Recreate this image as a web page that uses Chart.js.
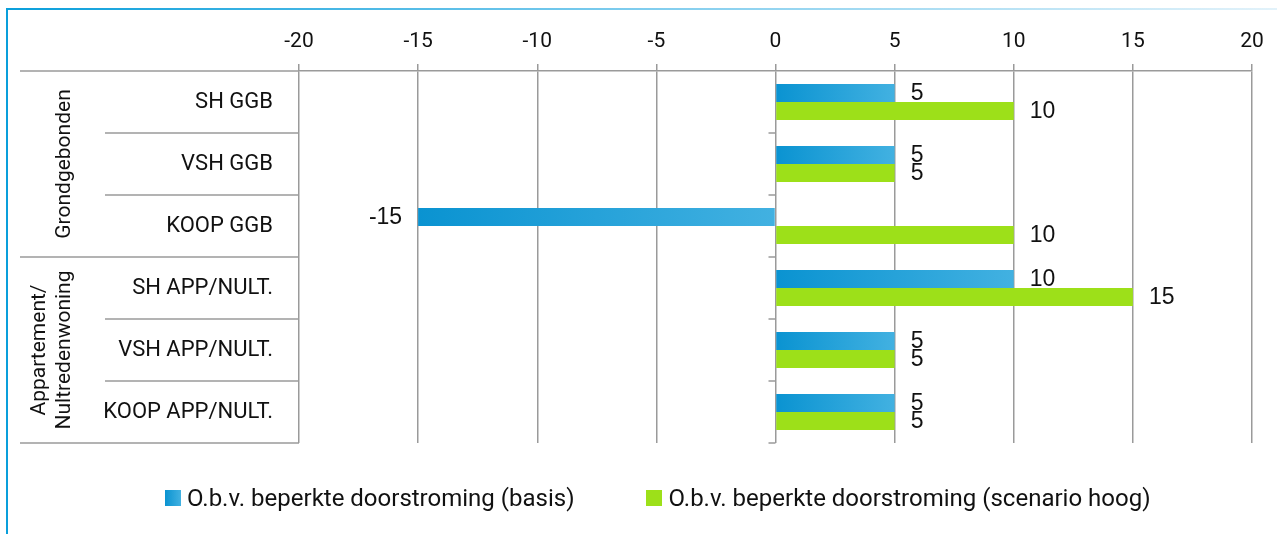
<!DOCTYPE html>
<html>
<head>
<meta charset="utf-8">
<title>Doorstroming</title>
<script src="https://cdn.jsdelivr.net/npm/chart.js@4.4.0/dist/chart.umd.min.js"></script>
<style>
    body { margin: 0; background: #fff; }
    #wrap { position: relative; width: 1277px; height: 534px; overflow: hidden; }
    #wrap canvas { position: absolute; left: 0; top: 0; }
    .frame-left { position: absolute; left: 6px; top: 8px; width: 2px; height: 526px; background: #0a9fdb; }
    .frame-top { position: absolute; left: 6px; top: 8px; width: 1271px; height: 2px;
        background: linear-gradient(to right, #0a9fdb, #80cdee 50%, #e2f2fa); }
    #legend { position: absolute; left: 165px; top: 484px; display: flex; gap: 72px;
        font-family: Roboto, sans-serif; font-size: 24px; color: #111; }
    #legend .item { display: flex; align-items: center; }
    #legend .box { width: 16px; height: 16px; margin-right: 6px; }
</style>
</head>
<body>
<div id="wrap">
    <canvas id="chart" width="1277" height="534"></canvas>
    <div class="frame-left"></div>
    <div class="frame-top"></div>
    <div id="legend"></div>
</div>
<script>
var categories = ['SH GGB', 'VSH GGB', 'KOOP GGB', 'SH APP/NULT.', 'VSH APP/NULT.', 'KOOP APP/NULT.'];
var basis = [5, 5, -15, 10, 5, 5];
var scenarioHoog = [10, 5, 10, 15, 5, 5];
var seriesNames = ['O.b.v. beperkte doorstroming (basis)', 'O.b.v. beperkte doorstroming (scenario hoog)'];

// groups of categories, shown rotated at the far left
var groupNames = [['Grondgebonden'], ['Appartement/', 'Nultredenwoning']];
var groupSizes = [3, 3];

var xMin = -20, xMax = 20, xStep = 5;

var blueDark = '#0a93d1', blueLight = '#42b1e1', green = '#9de019';
var gridColor = '#9a9a9a';

function blueFill(c) {
    var chart = c.chart;
    if (!chart.chartArea || c.type !== 'data') return blueDark;
    var xs = chart.scales.x;
    var a = xs.getPixelForValue(0), b = xs.getPixelForValue(c.raw);
    var g = chart.ctx.createLinearGradient(Math.min(a, b), 0, Math.max(a, b) + 0.01, 0);
    g.addColorStop(0, blueDark);
    g.addColorStop(1, blueLight);
    return g;
}

// separators in the label column, ticks on the zero line and the group names
var labelFrame = {
    id: 'labelFrame',
    afterDraw: function(chart) {
        var ctx = chart.ctx, area = chart.chartArea;
        var x = chart.scales.x, y = chart.scales.y;
        var n = categories.length;
        var band = y.getPixelForValue(1) - y.getPixelForValue(0);
        var x0 = x.getPixelForValue(0);
        var bounds = [0];
        groupSizes.forEach(function(s) { bounds.push(bounds[bounds.length - 1] + s); });

        ctx.save();
        ctx.strokeStyle = gridColor;
        ctx.lineWidth = 1.5;
        for (var i = 0; i <= n; i++) {
            var yy = y.getPixelForValue(i) - band / 2;
            var start = bounds.indexOf(i) >= 0 ? 20 : 105;
            ctx.beginPath();
            ctx.moveTo(start, yy);
            ctx.lineTo(area.left, yy);
            ctx.stroke();
            if (i > 0) {
                ctx.beginPath();
                ctx.moveTo(x0 - 7, yy);
                ctx.lineTo(x0, yy);
                ctx.stroke();
            }
        }

        ctx.fillStyle = '#111';
        ctx.font = '21px Roboto';
        ctx.textAlign = 'center';
        ctx.textBaseline = 'middle';
        groupNames.forEach(function(lines, g) {
            var top = y.getPixelForValue(bounds[g]) - band / 2;
            var bottom = y.getPixelForValue(bounds[g + 1]) - band / 2;
            var cy = (top + bottom) / 2;
            lines.forEach(function(t, j) {
                var cx = 65 - (lines.length - 1 - j) * 25;
                ctx.save();
                ctx.translate(cx, cy);
                ctx.rotate(-Math.PI / 2);
                ctx.fillText(t, 0, 0);
                ctx.restore();
            });
        });
        ctx.restore();
    }
};

// value next to the end of each bar
var valueLabels = {
    id: 'valueLabels',
    afterDatasetsDraw: function(chart) {
        var ctx = chart.ctx;
        ctx.save();
        ctx.font = '23px "Liberation Sans", Arial, sans-serif';
        ctx.fillStyle = '#111';
        ctx.textBaseline = 'middle';
        chart.data.datasets.forEach(function(ds, d) {
            chart.getDatasetMeta(d).data.forEach(function(bar, i) {
                var v = ds.data[i];
                ctx.textAlign = v < 0 ? 'right' : 'left';
                ctx.fillText(String(v), bar.x + (v < 0 ? -16 : 16), bar.y + 1);
            });
        });
        ctx.restore();
    }
};

var chart = new Chart(document.getElementById('chart'), {
    type: 'bar',
    data: {
        labels: categories,
        datasets: [{
            label: seriesNames[0],
            data: basis,
            backgroundColor: blueFill,
            categoryPercentage: 0.58,
            barPercentage: 1
        }, {
            label: seriesNames[1],
            data: scenarioHoog,
            backgroundColor: green,
            categoryPercentage: 0.58,
            barPercentage: 1
        }]
    },
    options: {
        indexAxis: 'y',
        responsive: false,
        animation: false,
        layout: { padding: { top: 12, right: 25, bottom: 91, left: 0 } },
        plugins: {
            legend: { display: false },
            tooltip: { enabled: false }
        },
        scales: {
            x: {
                position: 'top',
                min: xMin,
                max: xMax,
                afterFit: function(s) { s.height = 59; },
                ticks: {
                    stepSize: xStep,
                    maxRotation: 0,
                    padding: 10,
                    color: '#111',
                    font: { family: 'Roboto', size: 21 }
                },
                grid: { color: gridColor, lineWidth: 1.5, tickLength: 7 },
                border: { color: gridColor, width: 1.5 }
            },
            y: {
                afterFit: function(s) { s.width = 299; },
                grid: { display: false },
                border: { display: false },
                ticks: {
                    padding: 18,
                    color: '#111',
                    font: { family: 'Roboto', size: 22 }
                }
            }
        }
    },
    plugins: [labelFrame, valueLabels]
});

// legend built from the datasets
var swatches = ['linear-gradient(to right, ' + blueDark + ', ' + blueLight + ')', green];
var legend = document.getElementById('legend');
chart.data.datasets.forEach(function(ds, i) {
    var item = document.createElement('div');
    item.className = 'item';
    var box = document.createElement('span');
    box.className = 'box';
    box.style.background = swatches[i];
    var text = document.createElement('span');
    text.textContent = ds.label;
    item.appendChild(box);
    item.appendChild(text);
    legend.appendChild(item);
});
</script>
</body>
</html>
